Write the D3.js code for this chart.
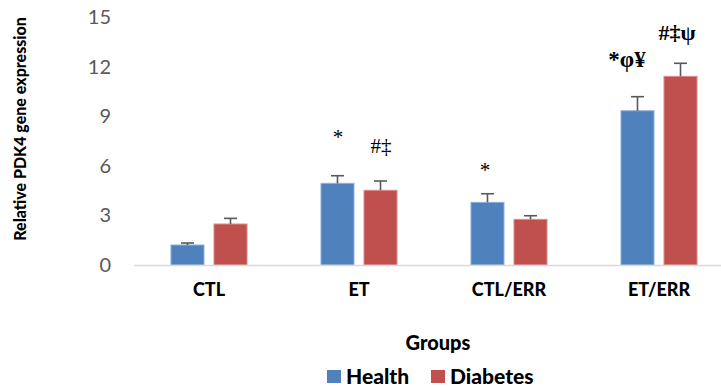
<!DOCTYPE html>
<html>
<head>
<meta charset="utf-8">
<script src="https://cdn.jsdelivr.net/npm/d3@7"></script>
<style>
  html, body { margin: 0; padding: 0; background: #fff; }
  svg { display: block; }
</style>
</head>
<body>
<svg id="chart" width="721" height="387"></svg>
<script>
const categories = ["CTL", "ET", "CTL/ERR", "ET/ERR"];
const series = ["Health", "Diabetes"];
const healthValues = [1.21, 4.94, 3.79, 9.33];
const healthErrors = [0.12, 0.46, 0.52, 0.85];
const diabetesValues = [2.48, 4.52, 2.76, 11.41];
const diabetesErrors = [0.34, 0.56, 0.22, 0.79];
const healthMarks = ["", "*", "*", "*φ¥"];
const diabetesMarks = ["", "#‡", "", "#‡ψ"];
const yTicks = [0, 3, 6, 9, 12, 15];
const colors = { Health: "#4F81BD", Diabetes: "#C0504D" };
const strokes = { Health: "#8fb0d8", Diabetes: "#dc8c8a" };

const svg = d3.select("#chart");
const y = d3.scaleLinear().domain([0, 15]).range([265, 17]);
const x0 = d3.scaleBand().domain(categories).range([134, 734]).paddingInner(0.493).paddingOuter(0.2465);
const x1 = d3.scaleBand().domain(series).range([0, x0.bandwidth()]).paddingInner(10 / 43);

const data = [];
categories.forEach((c, i) => {
  data.push({ cat: c, s: "Health", v: healthValues[i], e: healthErrors[i], m: healthMarks[i] });
  data.push({ cat: c, s: "Diabetes", v: diabetesValues[i], e: diabetesErrors[i], m: diabetesMarks[i] });
});

// Y axis tick labels
const yAxis = d3.axisLeft(y).tickValues(yTicks).tickSize(0).tickPadding(0);
const yg = svg.append("g").attr("transform", "translate(111,0)").call(yAxis);
yg.select(".domain").remove();
yg.selectAll("text")
  .attr("font-family", "Lato, 'Open Sans', sans-serif")
  .attr("font-size", 20)
  .attr("fill", "#595959");

// Bars
svg.append("g").selectAll("rect").data(data).join("rect")
  .attr("x", d => x0(d.cat) + x1(d.s))
  .attr("y", d => y(d.v))
  .attr("width", x1.bandwidth())
  .attr("height", d => y(0) - y(d.v))
  .attr("fill", d => colors[d.s])
  .attr("stroke", d => strokes[d.s])
  .attr("stroke-width", 1);

// Error bars
const eg = svg.append("g").attr("stroke", "#595959").attr("stroke-width", 1.6);
data.forEach(d => {
  const cx = x0(d.cat) + x1(d.s) + x1.bandwidth() / 2;
  eg.append("line").attr("x1", cx).attr("x2", cx).attr("y1", y(d.v)).attr("y2", y(d.v + d.e));
  eg.append("line").attr("x1", cx - 6.5).attr("x2", cx + 6.5).attr("y1", y(d.v + d.e)).attr("y2", y(d.v + d.e));
});

// X axis line
svg.append("line").attr("x1", 134).attr("x2", 721).attr("y1", y(0) + 0.5).attr("y2", y(0) + 0.5)
  .attr("stroke", "#d9d9d9").attr("stroke-width", 1.5);

// X axis labels
const xAxis = d3.axisBottom(x0).tickSize(0).tickPadding(0);
const xg = svg.append("g").attr("transform", "translate(0,283)").call(xAxis);
xg.select(".domain").remove();
xg.selectAll("text")
  .attr("font-family", "Lato, 'Open Sans', sans-serif")
  .attr("font-size", 18)
  .attr("font-weight", "900")
  .attr("fill", "#000");

// Significance marks
const markPos = {
  "CTL": [null, null],
  "ET": [[338, 144, false, 21], [381, 153, false, 21]],
  "CTL/ERR": [[485, 177, false, 21], null],
  "ET/ERR": [[627, 67, true, 23], [677, 40, true, 22]]
};
data.forEach(d => {
  if (!d.m) return;
  const p = markPos[d.cat][d.s === "Health" ? 0 : 1];
  svg.append("text")
    .attr("x", p[0])
    .attr("y", p[1])
    .attr("text-anchor", "middle")
    .attr("font-family", "'Liberation Serif', 'DejaVu Serif', serif")
    .attr("font-size", p[3])
    .attr("font-weight", p[2] ? "bold" : "normal")
    .attr("fill", "#000")
    .text(d.m);
});

// Axis titles
svg.append("text")
  .attr("transform", "translate(26,129) rotate(-90)")
  .attr("text-anchor", "middle")
  .attr("font-family", "Lato, 'Open Sans', sans-serif")
  .attr("font-size", 16)
  .attr("font-weight", "900")
  .attr("fill", "#000")
  .text("Relative PDK4 gene expression");

svg.append("text")
  .attr("x", 438).attr("y", 350)
  .attr("text-anchor", "middle")
  .attr("font-family", "Lato, 'Open Sans', sans-serif")
  .attr("font-size", 20)
  .attr("font-weight", "900")
  .attr("fill", "#000")
  .text("Groups");

// Legend
const legendItems = [
  { s: "Health", x: 327 },
  { s: "Diabetes", x: 431 }
];
const lg = svg.append("g");
legendItems.forEach(it => {
  lg.append("rect").attr("x", it.x).attr("y", 370).attr("width", 14).attr("height", 13).attr("fill", colors[it.s]);
  lg.append("text").attr("x", it.x + 19).attr("y", 384)
    .attr("font-family", "Lato, 'Open Sans', sans-serif")
    .attr("font-size", 21)
    .attr("font-weight", "900")
    .attr("fill", "#000")
    .text(it.s);
});
</script>
</body>
</html>
